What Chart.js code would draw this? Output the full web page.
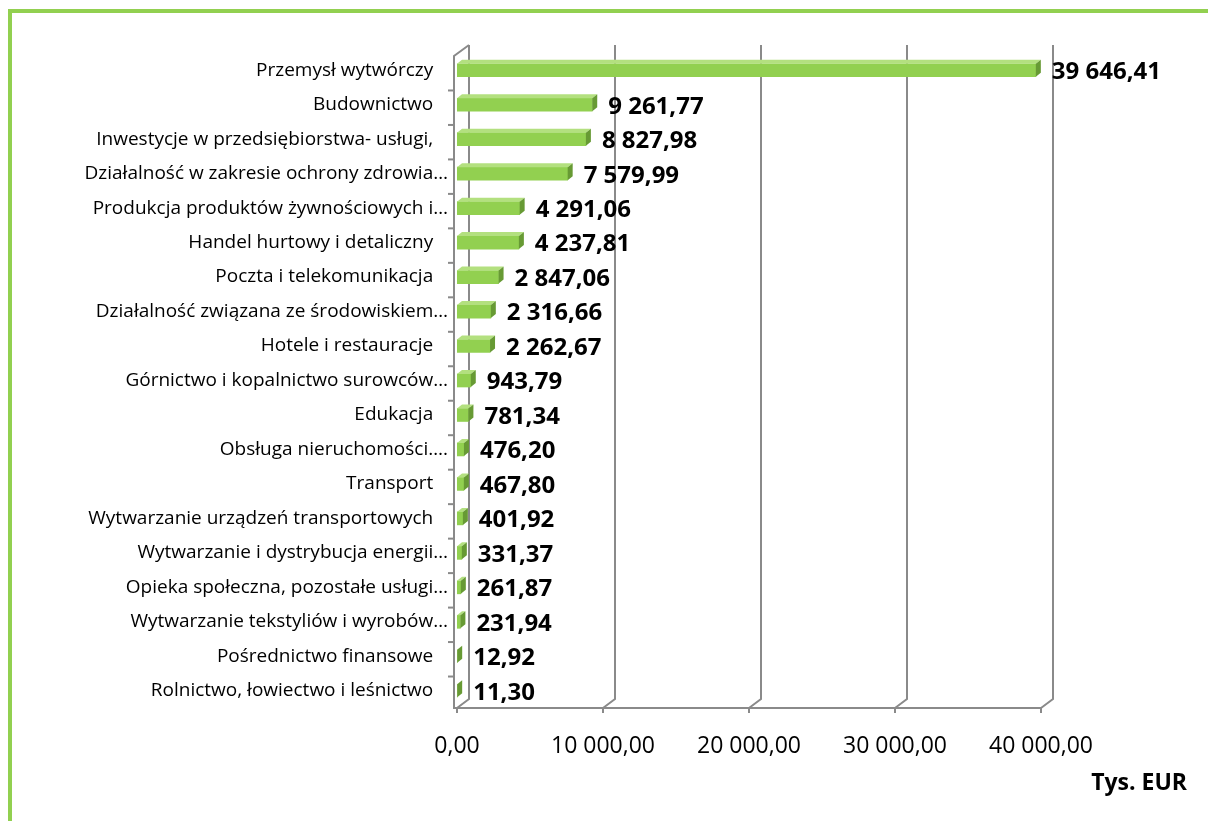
<!DOCTYPE html>
<html><head><meta charset="utf-8">
<script src="https://cdn.jsdelivr.net/npm/chart.js@4/dist/chart.umd.min.js"></script>
<style>
html,body{margin:0;padding:0;background:#fff;}
#wrap{position:relative;width:1208px;height:821px;overflow:hidden;}
#frame{position:absolute;left:8px;top:9px;right:-10px;bottom:-10px;border-left:4px solid #92D050;border-top:4px solid #92D050;}
canvas{position:absolute;left:0;top:0;}
</style></head>
<body><div id="wrap"><div id="frame"></div><canvas id="c" width="1208" height="821"></canvas></div>
<script>
const categories = ['Przemysł wytwórczy','Budownictwo','Inwestycje w przedsiębiorstwa- usługi,','Działalność w zakresie ochrony zdrowia…','Produkcja produktów żywnościowych i…','Handel hurtowy i detaliczny','Poczta i telekomunikacja','Działalność związana ze środowiskiem…','Hotele i restauracje','Górnictwo i kopalnictwo surowców…','Edukacja','Obsługa nieruchomości….','Transport','Wytwarzanie urządzeń transportowych','Wytwarzanie i dystrybucja energii…','Opieka społeczna, pozostałe usługi…','Wytwarzanie tekstyliów i wyrobów…','Pośrednictwo finansowe','Rolnictwo, łowiectwo i leśnictwo'];
const values = [39646.41, 9261.77, 8827.98, 7579.99, 4291.06, 4237.81, 2847.06, 2316.66, 2262.67, 943.79, 781.34, 476.20, 467.80, 401.92, 331.37, 261.87, 231.94, 12.92, 11.30];
const xTicks = [0, 10000, 20000, 30000, 40000];
const unitLabel = 'Tys. EUR';

function fmt(v){
  const s = v.toFixed(2).split('.');
  return s[0].replace(/\B(?=(\d{3})+(?!\d))/g,' ') + ',' + s[1];
}
const FONT = '"Open Sans", sans-serif';
const DX = 12, DY = 9;

const wallPlugin = {
  id:'wall',
  beforeDatasetsDraw(chart){
    const {ctx, chartArea:a, scales:{x}} = chart;
    ctx.save();
    ctx.strokeStyle = '#8a8a8a';
    ctx.lineWidth = 2;
    ctx.lineCap = 'butt';
    xTicks.forEach(v=>{
      const px = x.getPixelForValue(v);
      ctx.beginPath();
      ctx.moveTo(px+DX, a.top-8);
      ctx.lineTo(px+DX, a.bottom-DY);
      ctx.lineTo(px, a.bottom);
      ctx.stroke();
      ctx.beginPath();
      ctx.moveTo(px, a.bottom);
      ctx.lineTo(px, a.bottom+5);
      ctx.stroke();
    });
    const x0 = x.getPixelForValue(0);
    ctx.beginPath();
    ctx.moveTo(x0+DX, a.top-8);
    ctx.lineTo(x0-3, a.top+3);
    ctx.lineTo(x0-3, a.bottom);
    ctx.lineTo(x.getPixelForValue(40000), a.bottom);
    ctx.stroke();
    const band = (a.bottom-a.top)/categories.length;
    for(let i=1;i<categories.length;i++){
      const yb = a.top + i*band + 3;
      ctx.beginPath();
      ctx.moveTo(x0-9, yb);
      ctx.lineTo(x0-3, yb);
      ctx.stroke();
    }
    ctx.restore();
  },
  afterDatasetsDraw(chart){
    const {ctx} = chart;
    const meta = chart.getDatasetMeta(0);
    ctx.save();
    meta.data.forEach((bar,i)=>{
      const p = bar.getProps(['x','y','base','height'], true);
      const top = p.y - p.height/2, bot = p.y + p.height/2;
      const dx = 5, dy = 4;
      ctx.fillStyle = '#B3E07F';
      ctx.beginPath();
      ctx.moveTo(p.base, top); ctx.lineTo(p.x, top); ctx.lineTo(p.x+dx, top-dy); ctx.lineTo(p.base+dx, top-dy); ctx.closePath(); ctx.fill();
      ctx.fillStyle = '#679A34';
      ctx.beginPath();
      ctx.moveTo(p.x, top); ctx.lineTo(p.x+dx, top-dy); ctx.lineTo(p.x+dx, bot-dy); ctx.lineTo(p.x, bot); ctx.closePath(); ctx.fill();
      ctx.fillStyle = '#000';
      ctx.font = 'bold 24px ' + FONT;
      ctx.textAlign = 'left';
      ctx.textBaseline = 'middle';
      ctx.fillText(fmt(values[i]), p.x + 16, p.y + 2);
    });
    ctx.font = 'bold 23px ' + FONT;
    ctx.textAlign = 'right';
    ctx.textBaseline = 'middle';
    ctx.fillText(unitLabel, 1187, 783);
    ctx.restore();
  }
};

new Chart(document.getElementById('c'), {
  type:'bar',
  data:{labels:categories, datasets:[{data:values, backgroundColor:'#92D050', borderWidth:0, barThickness:13}]},
  options:{
    indexAxis:'y', responsive:false, maintainAspectRatio:false, animation:false,
    layout:{padding:{top:53,right:167,left:0,bottom:0}},
    plugins:{legend:{display:false}, tooltip:{enabled:false}},
    scales:{
      x:{min:0,max:40000,
        afterFit(s){s.height=113;},
        afterBuildTicks(s){s.ticks = xTicks.map(v=>({value:v}));},
        grid:{display:false}, border:{display:false},
        ticks:{padding:17, color:'#000', font:{family:FONT,size:23}, callback:(v)=>fmt(v), maxRotation:0}},
      y:{afterFit(s){s.width=457;},
        grid:{display:false, drawTicks:false}, border:{display:false},
        ticks:{padding:9, color:'#000', font:{family:FONT,size:19}, autoSkip:false,
          callback(v,i){ const t = categories[i]; return /…\.?$/.test(t) ? t : t + '   '; }}}
    }
  },
  plugins:[wallPlugin]
});
</script></body></html>
